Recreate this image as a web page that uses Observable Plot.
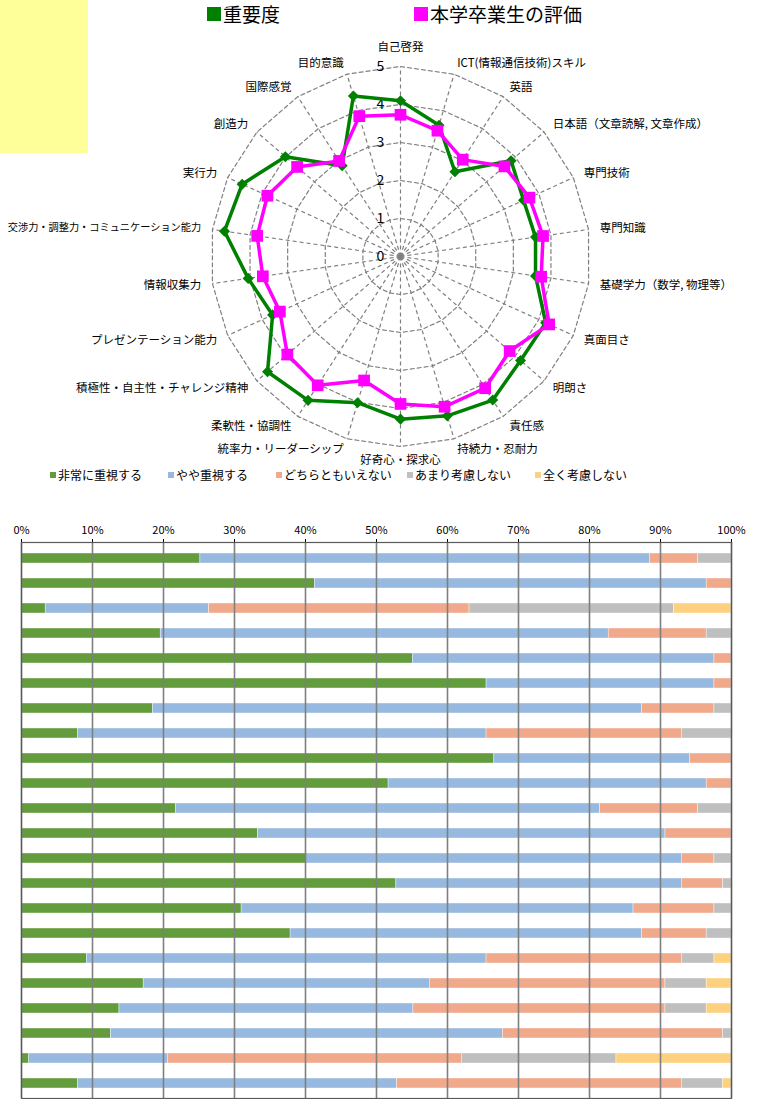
<!DOCTYPE html>
<html>
<head>
<meta charset="utf-8">
<script src="https://cdn.jsdelivr.net/npm/d3@7"></script>
<script src="https://cdn.jsdelivr.net/npm/@observablehq/plot@0.6"></script>
<style>
  html, body { margin: 0; padding: 0; background: #ffffff; }
  #page { position: relative; width: 760px; height: 1099px; overflow: hidden; font-family: "Noto Sans CJK JP", "Noto Sans", sans-serif; color: #000; }
  #note { position: absolute; left: 0; top: 0; width: 88px; height: 153px; background: #ffff99; }
  #radar { position: absolute; left: 0; top: 0; }
  #bars { position: absolute; left: 0; top: 505px; }
  .leg { position: absolute; white-space: nowrap; display: flex; align-items: center; line-height: 1.2; }
  .sw { display: inline-block; }
</style>
</head>
<body>
<div id="page">
  <div id="note"></div>
  <div id="radar"></div>
  <div id="topLegend"></div>
  <div id="barLegend"></div>
  <div id="bars"></div>
</div>
<script>
// ---------- Radar data ----------
const skills = [
  "自己啓発", "ICT(情報通信技術)スキル", "英語", "日本語（文章読解, 文章作成）", "専門技術", "専門知識",
  "基礎学力（数学, 物理等）", "真面目さ", "明朗さ", "責任感", "持続力・忍耐力", "好奇心・探求心",
  "統率力・リーダーシップ", "柔軟性・協調性", "積極性・自主性・チャレンジ精神", "プレゼンテーション能力",
  "情報収集力", "交渉力・調整力・コミュニケーション能力", "実行力", "創造力", "国際感覚", "目的意識"
];
const importance = [4.1, 3.6, 2.65, 3.85, 3.56, 3.59, 3.59, 4.2, 4.18, 4.49, 4.37, 4.28, 4.01, 4.5, 4.63, 3.7, 4.05, 4.68, 4.58, 4.01, 2.84, 4.4];
const evaluation = [3.73, 3.45, 3.03, 3.62, 3.73, 3.79, 3.74, 4.3, 3.8, 4.12, 4.12, 3.88, 3.4, 4.03, 3.94, 3.49, 3.66, 3.81, 3.85, 3.6, 2.99, 3.85];
const radarLevels = [0, 1, 2, 3, 4, 5];
const seriesNames = ["重要度", "本学卒業生の評価"];
const seriesColors = ["#008000", "#ff00ff"];

// ---------- Bar data (percent of respondents) ----------
const rowIds = ["Q1","Q2","Q3","Q4","Q5","Q6","Q7","Q8","Q9","Q10","Q11","Q12","Q13","Q14","Q15","Q16","Q17","Q18","Q19","Q20","Q21","Q22"];
const responseLevels = ["非常に重視する", "やや重視する", "どちらともいえない", "あまり考慮しない", "全く考慮しない"];
const responseColors = ["#629c3c", "#97b9df", "#f0a98a", "#bfbfbf", "#fdd17f"];
const veryImportant     = [25.2, 41.3, 3.4, 19.6, 55.1, 65.5, 18.5, 8.0, 66.6, 51.7, 21.8, 33.3, 40.1, 52.8, 31.0, 37.9, 9.2, 17.2, 13.8, 12.6, 1.1, 8.0];
const somewhatImportant = [63.3, 55.2, 23.0, 63.1, 42.5, 32.1, 68.9, 57.5, 27.6, 44.8, 59.7, 57.4, 52.9, 40.2, 55.2, 49.5, 56.3, 40.3, 41.4, 55.2, 19.5, 44.9];
const neutral           = [6.8, 3.5, 36.7, 13.8, 2.4, 2.4, 10.2, 27.5, 5.8, 3.5, 13.8, 9.3, 4.6, 5.8, 11.4, 9.1, 27.5, 33.2, 35.5, 31.0, 41.4, 40.1];
const notMuch           = [4.7, 0, 28.8, 3.5, 0, 0, 2.4, 7.0, 0, 0, 4.7, 0, 2.4, 1.2, 2.4, 3.5, 4.6, 5.8, 5.8, 1.2, 21.8, 5.8];
const notAtAll          = [0, 0, 8.1, 0, 0, 0, 0, 0, 0, 0, 0, 0, 0, 0, 0, 0, 2.4, 3.5, 3.5, 0, 16.2, 1.2];
const xTicks = [0, 10, 20, 30, 40, 50, 60, 70, 80, 90, 100];

const FONT = '"Noto Sans CJK JP", "Noto Sans", sans-serif';

// ---------- Radar ----------
const W = 760, H = 470, CX = 400, CY = 256, K = 38;
const n = skills.length;
const ang = i => i * 2 * Math.PI / n;
const px = (v, i) => v * Math.sin(ang(i));
const py = (v, i) => v * Math.cos(ang(i));
const maxLevel = d3.max(radarLevels);
const LR = 5.3;

const ringPts = radarLevels.filter(l => l > 0).flatMap(l => skills.map((s, i) => ({l, i})));
const seriesValues = [importance, evaluation];
const seriesPts = seriesNames.map((name, si) => seriesValues[si].map((v, i) => ({name, v, i})));
const skillIdx = skills.map((s, i) => ({s, i}));
const grid = {stroke: "#808080", strokeWidth: 1.2, strokeDasharray: "4,3"};
// long labels are set a little tighter so they fit the page like the reference
const labelSize = d => d.s.length > 16 ? 10.2 : 11.5;

const radar = Plot.plot({
  width: W, height: H, margin: 0,
  x: {domain: [-CX / K, (W - CX) / K], axis: null},
  y: {domain: [-(H - CY) / K, CY / K], axis: null},
  color: {domain: seriesNames, range: seriesColors},
  style: {fontFamily: FONT, fontSize: "11.5px", background: "transparent", overflow: "visible"},
  marks: [
    Plot.line(ringPts, {x: d => px(d.l, d.i), y: d => py(d.l, d.i), z: "l", curve: "linear-closed", ...grid}),
    Plot.link(skillIdx, {x1: 0, y1: 0, x2: d => px(maxLevel, d.i), y2: d => py(maxLevel, d.i), ...grid}),
    Plot.text(radarLevels, {x: 0, y: d => d, dx: -20, text: d => String(d), fontSize: 14, fill: "#000"}),
    // importance
    Plot.line(seriesPts[0], {x: d => px(d.v, d.i), y: d => py(d.v, d.i), stroke: "name", strokeWidth: 3.5, curve: "linear-closed"}),
    Plot.dot(seriesPts[0], {x: d => px(d.v, d.i), y: d => py(d.v, d.i), fill: "name", symbol: "diamond2", r: 5, stroke: null}),
    // evaluation
    Plot.line(seriesPts[1], {x: d => px(d.v, d.i), y: d => py(d.v, d.i), stroke: "name", strokeWidth: 3.5, curve: "linear-closed"}),
    Plot.dot(seriesPts[1], {x: d => px(d.v, d.i), y: d => py(d.v, d.i), fill: "name", symbol: "square", r: 6.6, stroke: null}),
    // category labels
    Plot.text(skillIdx.filter(d => d.i > 0 && d.i < n / 2), {x: d => px(LR, d.i), y: d => py(LR, d.i), text: "s", textAnchor: "start", fontSize: labelSize, fill: "#000"}),
    Plot.text(skillIdx.filter(d => d.i > n / 2), {x: d => px(LR, d.i), y: d => py(LR, d.i), text: "s", textAnchor: "end", fontSize: labelSize, fill: "#000"}),
    Plot.text(skillIdx.filter(d => d.i === 0), {x: d => px(5.4, d.i), y: d => py(5.4, d.i), text: "s", lineAnchor: "bottom", fill: "#000"}),
    Plot.text(skillIdx.filter(d => d.i === n / 2), {x: d => px(5.37, d.i), y: d => py(5.37, d.i), text: "s", lineAnchor: "middle", fill: "#000"})
  ]
});
document.getElementById("radar").appendChild(radar);

// top legend
const topLeg = document.getElementById("topLegend");
const topPos = [207, 414];
seriesNames.forEach((name, i) => {
  const el = document.createElement("div");
  el.className = "leg";
  el.style.left = topPos[i] + "px";
  el.style.top = "3px";
  el.style.fontSize = "19px";
  el.innerHTML = `<span class="sw" style="width:14px;height:14px;background:${seriesColors[i]};margin-right:2px"></span><span>${name}</span>`;
  topLeg.appendChild(el);
});

// bar legend
const barLeg = document.getElementById("barLegend");
const barLegPos = [50, 168, 276, 407, 535];
responseLevels.forEach((name, i) => {
  const el = document.createElement("div");
  el.className = "leg";
  el.style.left = barLegPos[i] + "px";
  el.style.top = "468px";
  el.style.fontSize = "12px";
  el.innerHTML = `<span class="sw" style="width:6px;height:6px;background:${responseColors[i]};margin-right:2px"></span><span>${name}</span>`;
  barLeg.appendChild(el);
});

// ---------- Bars ----------
const barSeries = [veryImportant, somewhatImportant, neutral, notMuch, notAtAll];
const barData = rowIds.flatMap((row, r) => responseLevels.map((level, li) => ({row, level, value: barSeries[li][r]})));

const bars = Plot.plot({
  width: 760, height: 595,
  marginTop: 37, marginBottom: 2, marginLeft: 21, marginRight: 29,
  x: {domain: [0, 100], ticks: xTicks, tickFormat: d => d + "%", axis: "top", tickSize: 4, tickPadding: 5, label: null},
  y: {domain: rowIds, axis: null, paddingInner: 0.6, paddingOuter: 0.3},
  color: {domain: responseLevels, range: responseColors},
  style: {fontFamily: FONT, fontSize: "11px", color: "#000", background: "transparent"},
  marks: [
    Plot.barX(barData, Plot.stackX({y: "row", x: "value", fill: "level", order: responseLevels, stroke: "#ffffff", strokeWidth: 0.4})),
    Plot.ruleX(xTicks, {stroke: "#7f7f7f", strokeWidth: 1.6}),
    Plot.frame({stroke: "#595959", strokeWidth: 1.2})
  ]
});
document.getElementById("bars").appendChild(bars);
</script>
</body>
</html>
